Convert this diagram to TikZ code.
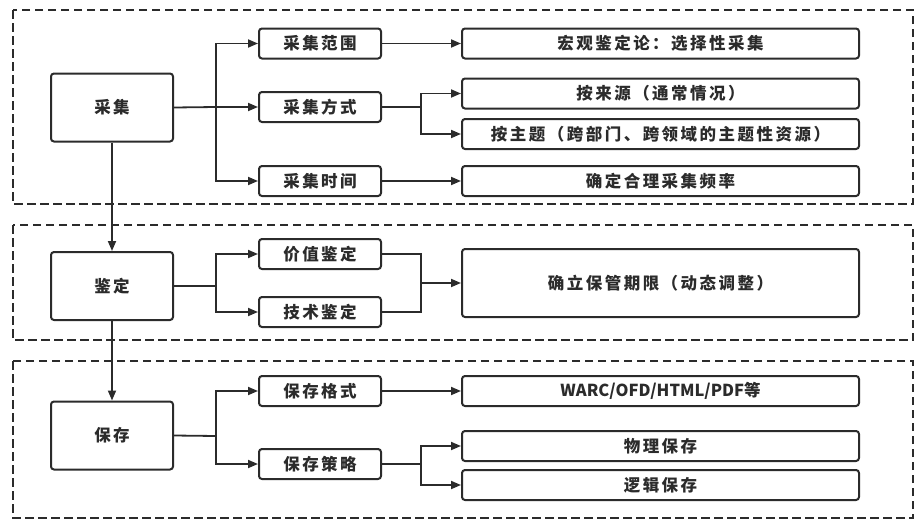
\documentclass[tikz,border=0pt]{standalone}
\usepackage{fontspec}
\setmainfont{Noto Sans CJK SC}[LetterSpace=15]
\newfontfamily\latinfont{Noto Sans CJK SC}
\usetikzlibrary{arrows.meta}
\definecolor{ink}{HTML}{2B2B2B}
\tikzset{
  box/.style={draw=ink, line width=2pt, rounded corners=3pt, inner sep=0pt, text=ink, font=\fontsize{16.5}{18}\selectfont\bfseries, fill=white},
  mainbox/.style={box, minimum width=122pt, minimum height=68pt},
  midbox/.style={box, minimum width=122pt, minimum height=30pt},
  leafbox/.style={box, minimum width=397pt, minimum height=30pt},
  frame/.style={draw=ink, line width=1.8pt, dash pattern=on 8.5pt off 4.5pt},
  conn/.style={draw=ink, line width=1.8pt},
  arr/.style={conn, -{Triangle[length=10pt,width=8pt]}},
}
\begin{document}
\begin{tikzpicture}[x=1pt,y=-1pt]
\useasboundingbox (0,0) rectangle (915,522);
% frames
\draw[frame] (13,10) rectangle (913,204);
\draw[frame] (13,225) rectangle (913,340);
\draw[frame] (13,361) rectangle (913,518);
% main boxes
\node[mainbox] (c1) at (112,107.5) {采集};
\node[mainbox] (c2) at (112,286) {鉴定};
\node[mainbox] (c3) at (112,435.5) {保存};
% middle boxes
\node[midbox] (r1) at (320,43.5) {采集范围};
\node[midbox] (r2) at (320,107) {采集方式};
\node[midbox] (r3) at (320,181) {采集时间};
\node[midbox] (r4) at (320,254) {价值鉴定};
\node[midbox] (r5) at (320,312) {技术鉴定};
\node[midbox] (r6) at (320,391) {保存格式};
\node[midbox] (r7) at (320,464) {保存策略};
% leaf boxes
\node[leafbox] (t1) at (660.5,43.5) {宏观鉴定论：选择性采集};
\node[leafbox] (t2) at (660.5,93.5) {按来源（通常情况）};
\node[leafbox] (t3) at (660.5,134) {按主题（跨部门、跨领域的主题性资源）};
\node[leafbox] (t4) at (660.5,181) {确定合理采集频率};
\node[leafbox, minimum height=68pt] (t5) at (660.5,283) {确立保管期限（动态调整）};
\node[leafbox] (t6) at (660.5,391) {{\latinfont\bfseries WARC/OFD/HTML/PDF}等};
\node[leafbox] (t7) at (660.5,446) {物理保存};
\node[leafbox] (t8) at (660.5,485) {逻辑保存};
% junctions
\coordinate (j1) at (216,107);
\coordinate (j2) at (421,107);
\coordinate (j3) at (216,286);
\coordinate (j4) at (421,283);
\coordinate (j5) at (216,436);
\coordinate (j6) at (421,464);
% connectors
\draw[conn] (c1.east) -- (j1);
\draw[arr] (j1) |- (r1.west);
\draw[arr] (j1) -- (r2.west);
\draw[arr] (j1) |- (r3.west);
\draw[arr] (r1.east) -- (t1.west);
\draw[conn] (r2.east) -- (j2);
\draw[arr] (j2) |- (t2.west);
\draw[arr] (j2) |- (t3.west);
\draw[arr] (r3.east) -- (t4.west);
\draw[arr] (c1.south) -- (c2.north);
\draw[conn] (c2.east) -- (j3);
\draw[arr] (j3) |- (r4.west);
\draw[arr] (j3) |- (r5.west);
\draw[conn] (r4.east) -| (j4);
\draw[conn] (r5.east) -| (j4);
\draw[arr] (j4) -- (t5.west);
\draw[arr] (c2.south) -- (c3.north);
\draw[conn] (c3.east) -- (j5);
\draw[arr] (j5) |- (r6.west);
\draw[arr] (j5) |- (r7.west);
\draw[arr] (r6.east) -- (t6.west);
\draw[conn] (r7.east) -- (j6);
\draw[arr] (j6) |- (t7.west);
\draw[arr] (j6) |- (t8.west);
\end{tikzpicture}
\end{document}
